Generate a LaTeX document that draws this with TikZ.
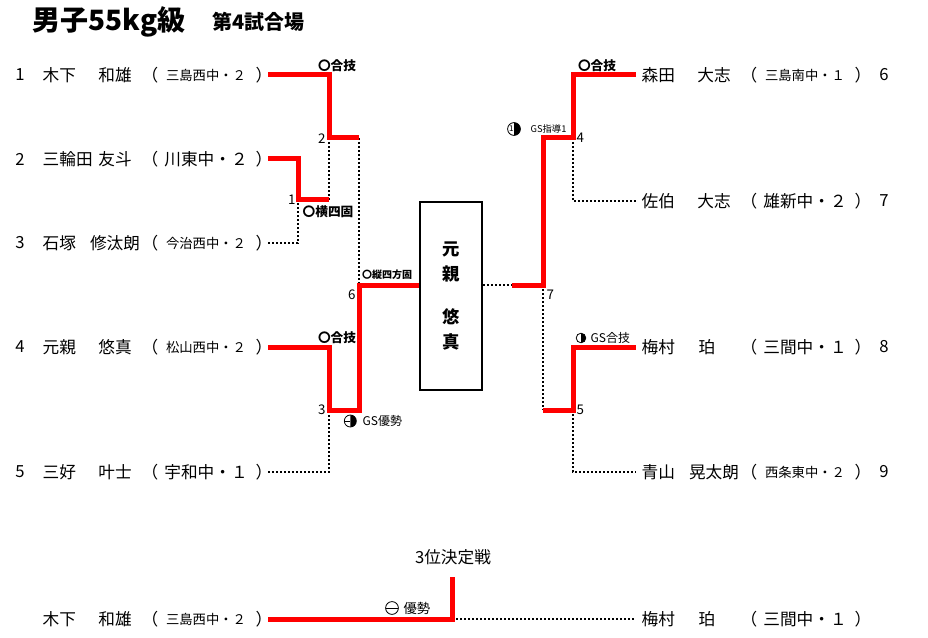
\documentclass[tikz,border=0pt]{standalone}
\usepackage{fontspec}
\setmainfont{Noto Sans CJK JP}
\usetikzlibrary{positioning, calc}

\begin{document}
\begin{tikzpicture}[x=0.75pt, y=-0.75pt,
  win/.style={draw=red, line width=3.75pt},
  lose/.style={draw=black, line width=1.5pt, dash pattern=on 1.5pt off 1.5pt},
  num/.style={font=\fontsize{12.5}{15}\selectfont},
  player/.style={font=\fontsize{12.5}{15}\selectfont},
  school/.style={font=\fontsize{10}{12}\selectfont},
  bigschool/.style={font=\fontsize{12.5}{15}\selectfont},
  matchno/.style={font=\fontsize{10}{12}\selectfont, inner sep=1pt},
  how/.style={font=\bfseries\fontsize{9.5}{11}\selectfont, inner sep=1pt},
  gs/.style={font=\fontsize{9}{11}\selectfont, inner sep=1pt, anchor=west},
  rhalf/.pic={\draw[line width=0.6pt] (0pt,0pt) circle (3.6pt); \fill (0pt,-3.6pt) arc[start angle=-90, end angle=90, radius=3.6pt] -- cycle;},
  halfbar/.pic={\draw[line width=0.6pt] (0pt,0pt) circle (4.5pt); \fill (0pt,-4.5pt) arc[start angle=-90, end angle=90, radius=4.5pt] -- cycle; \draw[line width=0.6pt] (-4.5pt,0pt) -- (0pt,0pt);},
  shido/.pic={\draw[line width=0.6pt] (0pt,0pt) circle (4.8pt); \fill (0pt,-4.8pt) arc[start angle=-90, end angle=90, radius=4.8pt] -- cycle; \node[font=\fontsize{6}{6}\selectfont, inner sep=0pt] at (-2pt,0pt) {1};},
  minus/.pic={\draw[line width=0.6pt] (0pt,0pt) circle (4.8pt); \draw[line width=0.6pt] (-4.8pt,0pt) -- (4.8pt,0pt);},
  ]
\useasboundingbox (0,0) rectangle (928,638);

% title
\node[font=\bfseries\fontsize{21}{24}\selectfont, anchor=west] (title) at (28,22) {男子55kg級};
\node[font=\bfseries\fontsize{15}{18}\selectfont, anchor=west] (court) at (208,22) {第4試合場};

% left players
\node[num] (n1) at (20,75) {1};
\node[player, anchor=west] (sn1) at (38,75) {木下};
\node[player] (gn1) at (115,75) {和雄};
\node[player] (lp1) at (150,75) {（};
\node[school] (sc1) at (206,75) {三島西中・２};
\node[player] (rp1) at (264,75) {）};

\node[num] (n2) at (20,159) {2};
\node[player, anchor=west] (sn2) at (38,159) {三輪田};
\node[player] (gn2) at (115,159) {友斗};
\node[player] (lp2) at (150,159) {（};
\node[bigschool] (sc2) at (206,159) {川東中・２};
\node[player] (rp2) at (264,159) {）};

\node[num] (n3) at (20,243) {3};
\node[player, anchor=west] (sn3) at (38,243) {石塚};
\node[player] (gn3) at (115,243) {修汰朗};
\node[player] (lp3) at (150,243) {（};
\node[school] (sc3) at (206,243) {今治西中・２};
\node[player] (rp3) at (264,243) {）};

\node[num] (n4) at (20,347) {4};
\node[player, anchor=west] (sn4) at (38,347) {元親};
\node[player] (gn4) at (115,347) {悠真};
\node[player] (lp4) at (150,347) {（};
\node[school] (sc4) at (206,347) {松山西中・２};
\node[player] (rp4) at (264,347) {）};

\node[num] (n5) at (20,472) {5};
\node[player, anchor=west] (sn5) at (38,472) {三好};
\node[player] (gn5) at (115,472) {叶士};
\node[player] (lp5) at (150,472) {（};
\node[bigschool] (sc5) at (206,472) {宇和中・１};
\node[player] (rp5) at (264,472) {）};

% right players
\node[player, anchor=west] (sn6) at (637,75) {森田};
\node[player] (gn6) at (714,75) {大志};
\node[player] (lp6) at (749,75) {（};
\node[school] (sc6) at (805,75) {三島南中・１};
\node[player] (rp6) at (863,75) {）};
\node[num] (n6) at (884,75) {6};

\node[player, anchor=west] (sn7) at (637,201) {佐伯};
\node[player] (gn7) at (714,201) {大志};
\node[player] (lp7) at (749,201) {（};
\node[bigschool] (sc7) at (805,201) {雄新中・２};
\node[player] (rp7) at (863,201) {）};
\node[num] (n7) at (884,201) {7};

\node[player, anchor=west] (sn8) at (637,347) {梅村};
\node[player, anchor=west] (gn8) at (694,347) {珀};
\node[player] (lp8) at (749,347) {（};
\node[bigschool] (sc8) at (805,347) {三間中・１};
\node[player] (rp8) at (863,347) {）};
\node[num] (n8) at (884,347) {8};

\node[player, anchor=west] (sn9) at (637,472) {青山};
\node[player] (gn9) at (714,472) {晃太朗};
\node[player] (lp9) at (749,472) {（};
\node[school] (sc9) at (805,472) {西条東中・２};
\node[player] (rp9) at (863,472) {）};
\node[num] (n9) at (884,472) {9};

% champion
\node[draw=black, line width=1.5pt, minimum width=46.5pt, minimum height=141pt, align=center, font=\bfseries\fontsize{13}{18.75}\selectfont] (champ) at (451,296) {元\\親\\[14pt]悠\\真};

% bracket points
\coordinate (e1) at (268,75);
\coordinate (e2) at (268,159);
\coordinate (e3) at (268,243);
\coordinate (e4) at (268,347);
\coordinate (e5) at (268,472);
\coordinate (m1) at (298,200);
\coordinate (m1o) at (329,200);
\coordinate (m2) at (329,138);
\coordinate (m2o) at (359,138);
\coordinate (m3) at (329,410);
\coordinate (m3o) at (359,410);
\coordinate (m6) at (359,285);
\coordinate (f6) at (636,75);
\coordinate (f7) at (636,201);
\coordinate (f8) at (636,347);
\coordinate (f9) at (636,472);
\coordinate (r0) at (512,285);
\coordinate (m7) at (543,285);
\coordinate (m4) at (573,138);
\coordinate (m5o) at (543,410);
\coordinate (m5) at (573,410);

% losers
\draw[lose] (e3) -| (m1);
\draw[lose] (m1o) -- (m2);
\draw[lose] (m2o) -- (m6);
\draw[lose] (e5) -| (m3);
\draw[lose] (champ.east |- r0) -- (r0);
\draw[lose] (m4) |- (f7);
\draw[lose] (m7) -- (m5o);
\draw[lose] (m5) |- (f9);

% winners
\draw[win] (e1) -| (m2) -- (m2o);
\draw[win] (e2) -| (m1) -- (m1o);
\draw[win] (e4) -| (m3) -- (m3o) -- (m6) -- (champ.west |- m6);
\draw[win] (r0) -- (m7) |- (m4) |- (f6);
\draw[win] (m5o) -- (m5) |- (f8);

% match numbers
\node[matchno, anchor=east] (k1) at (297,200) {1};
\node[matchno, anchor=east] (k2) at (327,139) {2};
\node[matchno, anchor=east] (k3) at (327,410) {3};
\node[matchno, anchor=east] (k6) at (357,295) {6};
\node[matchno, anchor=west] (k4) at (575,138) {4};
\node[matchno, anchor=west] (k7) at (545,295) {7};
\node[matchno, anchor=west] (k5) at (575,410) {5};

% how the bouts were won
\node[how] (w2) at (337,66) {〇合技};
\node[how] (w1) at (328,212) {〇横四固};
\node[how, font=\bfseries\fontsize{7.5}{9}\selectfont] (w6) at (387,275) {〇縦四方固};
\node[how] (w3a) at (337,338) {〇合技};
\node[gs] (w3) at (361,421) {GS優勢};
\pic at ($(w3.west)+(-8pt,0pt)$) {halfbar};
\node[how] (w4a) at (597,66) {〇合技};
\node[gs, font=\fontsize{7}{8}\selectfont] (w4) at (529,129) {GS指導1};
\pic at (514,129) {shido};
\node[gs] (w5) at (589,338) {GS合技};
\pic at ($(w5.west)+(-6pt,0pt)$) {rhalf};

% third place
\node[player] (third) at (453,557) {3位決定戦};
\node[player, anchor=west] (snb1) at (38,619) {木下};
\node[player] (gnb1) at (115,619) {和雄};
\node[player] (lpb1) at (150,619) {（};
\node[school] (scb1) at (206,619) {三島西中・２};
\node[player] (rpb1) at (264,619) {）};
\node[player, anchor=west] (snb2) at (637,619) {梅村};
\node[player, anchor=west] (gnb2) at (694,619) {珀};
\node[player] (lpb2) at (749,619) {（};
\node[bigschool] (scb2) at (805,619) {三間中・１};
\node[player] (rpb2) at (863,619) {）};
\coordinate (b1) at (268,619);
\coordinate (bw) at (452,619);
\coordinate (btop) at (452,577);
\coordinate (b2) at (636,619);
\draw[lose] (bw) -- (b2);
\draw[win] (b1) -- (bw) -- (btop);
\node[gs, font=\fontsize{10}{12}\selectfont] (w0) at (402,608) {優勢};
\pic at (392,608) {minus};
\end{tikzpicture}
\end{document}
